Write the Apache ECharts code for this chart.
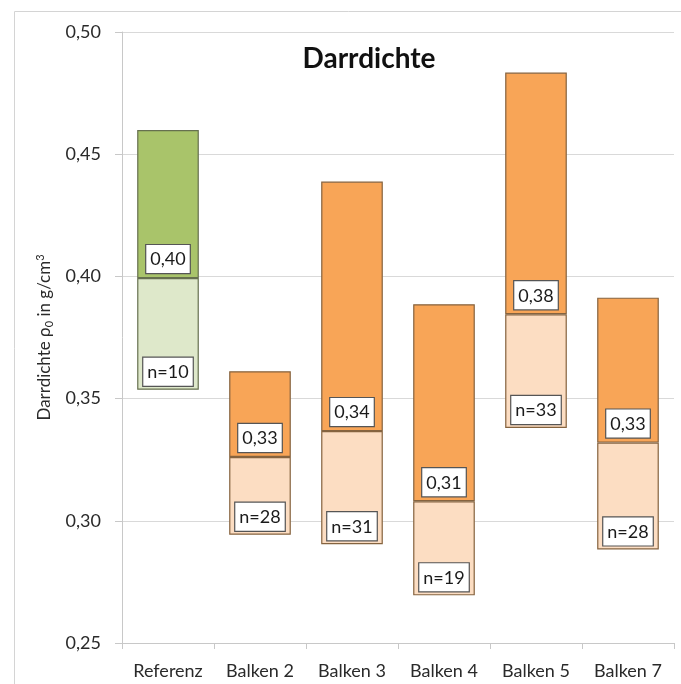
<!DOCTYPE html>
<html><head><meta charset="utf-8">
<script src="https://cdn.jsdelivr.net/npm/echarts@6/dist/echarts.min.js"></script>
<style>html,body{margin:0;padding:0;background:#fff}#c{width:681px;height:684px}</style>
</head><body><div id="c"></div>
<script>
const categories = ['Referenz','Balken 2','Balken 3','Balken 4','Balken 5','Balken 7'];
const minVals  = [0.3536, 0.2943, 0.2904, 0.2695, 0.3380, 0.2883];
const meanVals = [0.3993, 0.3261, 0.3367, 0.3080, 0.3845, 0.3320];
const maxVals  = [0.4599, 0.3612, 0.4388, 0.3886, 0.4834, 0.3913];
const meanLabels = ['0,40','0,33','0,34','0,31','0,38','0,33'];
const nLabels = ['n=10','n=28','n=31','n=19','n=33','n=28'];
const yTicks = [0.25, 0.30, 0.35, 0.40, 0.45, 0.50];

const FONT = 'Lato';
const darkCol = ['#A9C46A','#F8A557','#F8A557','#F8A557','#F8A557','#F8A557'];
const lightCol = ['#DEE8CA','#FCDDC2','#FCDDC2','#FCDDC2','#FCDDC2','#FCDDC2'];
const borderCol = ['#66704f','#85633f','#85633f','#85633f','#85633f','#85633f'];

const labelBox = {
  backgroundColor:'#fff', borderColor:'#555', borderWidth:1.2,
  padding:[5,4,4,4], color:'#1a1a1a', fontSize:18, fontFamily:FONT, lineHeight:19
};

const chart = echarts.init(document.getElementById('c'));
chart.setOption({
  animation:false,
  graphic:[{type:'rect', shape:{x:14.5,y:11.5,width:800,height:800}, style:{fill:'none',stroke:'#d4d4d4',lineWidth:1}, z:-10}],
  title:{text:'Darrdichte', left:364, textAlign:'center', top:40,
    textStyle:{fontFamily:FONT, fontWeight:'bold', fontSize:28, color:'#111'}},
  grid:{left:122, right:7, top:32, bottom:41},
  xAxis:{type:'category', data:categories,
    axisLine:{lineStyle:{color:'#c8c8c8'}},
    axisTick:{show:true, length:6, lineStyle:{color:'#c8c8c8'}},
    axisLabel:{fontFamily:FONT, fontSize:18, color:'#2a2a2a', margin:19}},
  yAxis:{type:'value', min:yTicks[0], max:yTicks[yTicks.length-1], interval:0.05,
    name:'Darrdichte ρ{sub|0} in g/cm{sup|3}', nameLocation:'middle', nameGap:65, nameRotate:90,
    nameTextStyle:{fontFamily:FONT, fontSize:17, color:'#2a2a2a',
      rich:{sub:{fontSize:11, verticalAlign:'bottom', padding:[9,0,0,0], fontFamily:FONT, color:'#2a2a2a'},
            sup:{fontSize:11, verticalAlign:'top', padding:[0,0,9,0], fontFamily:FONT, color:'#2a2a2a'}}},
    axisLine:{show:true, lineStyle:{color:'#c8c8c8'}},
    axisTick:{show:true, length:7, lineStyle:{color:'#c8c8c8'}},
    splitLine:{lineStyle:{color:'#d9d9d9'}},
    axisLabel:{fontFamily:FONT, fontSize:18, color:'#2a2a2a', margin:21,
      formatter:v=>v.toFixed(2).replace('.',',')}},
  series:[
    {type:'bar', stack:'s', barCategoryGap:'33%', silent:true,
     itemStyle:{color:'rgba(0,0,0,0)'}, data:minVals},
    {type:'bar', stack:'s',
     data:categories.map((c,i)=>({value:meanVals[i]-minVals[i],
       itemStyle:{color:lightCol[i], borderColor:borderCol[i], borderWidth:1.2}})),
     label:Object.assign({show:true, position:'insideBottom', distance:4,
       formatter:p=>nLabels[p.dataIndex]}, labelBox)},
    {type:'bar', stack:'s',
     data:categories.map((c,i)=>({value:maxVals[i]-meanVals[i],
       itemStyle:{color:darkCol[i], borderColor:borderCol[i], borderWidth:1.2}})),
     label:Object.assign({show:true, position:'insideBottom', distance:5,
       formatter:p=>meanLabels[p.dataIndex]}, labelBox)}
  ]
});
</script></body></html>
